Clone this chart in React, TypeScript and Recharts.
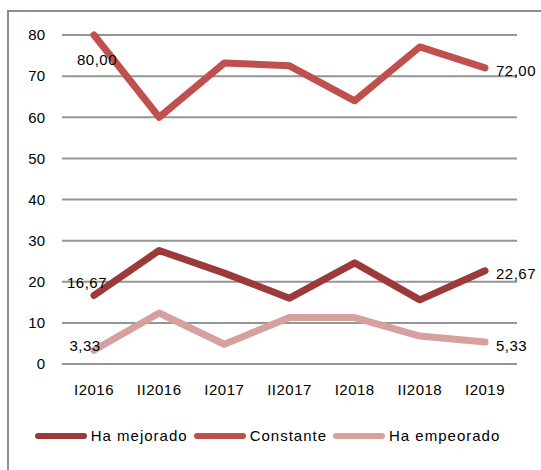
import React from "react";
import {
  LineChart,
  Line,
  XAxis,
  YAxis,
  CartesianGrid,
  Legend,
  LabelList,
} from "recharts";

const periods = ["I2016", "II2016", "I2017", "II2017", "I2018", "II2018", "I2019"];
const haMejorado = [16.67, 27.6, 22.1, 16.0, 24.6, 15.6, 22.67];
const constante = [80.0, 60.0, 73.2, 72.5, 64.0, 77.1, 72.0];
const haEmpeorado = [3.33, 12.4, 4.8, 11.3, 11.3, 6.8, 5.33];
const yTicks = [0, 10, 20, 30, 40, 50, 60, 70, 80];

const data = periods.map((p, i) => ({
  period: p,
  mejorado: haMejorado[i],
  constante: constante[i],
  empeorado: haEmpeorado[i],
}));

const FONT = "'Liberation Sans', Arial, sans-serif";

const series = [
  { key: "mejorado", name: "Ha mejorado", color: "#9C3A39", first: { dx: -7, dy: -13 } },
  { key: "constante", name: "Constante", color: "#C0504D", first: { dx: 3, dy: 24 } },
  { key: "empeorado", name: "Ha empeorado", color: "#D6A09F", first: { dx: -9, dy: -5 } },
];

const fmt = (v: number) => v.toFixed(2).replace(".", ",");

const makeLabel = (first: { dx: number; dy: number }) => (props: any) => {
  const { x, y, value, index } = props;
  const last = periods.length - 1;
  if (index !== 0 && index !== last) return null;
  const isFirst = index === 0;
  return (
    <text
      x={isFirst ? x + first.dx : x + 11}
      y={isFirst ? y + first.dy : y + 3}
      textAnchor={isFirst ? "middle" : "start"}
      dominantBaseline="central"
      fontSize={15}
      fontFamily={FONT}
      letterSpacing={0.5}
      fill="#000"
    >
      {fmt(value)}
    </text>
  );
};

const LegendContent = () => (
  <div
    style={{
      display: "flex",
      justifyContent: "center",
      alignItems: "center",
      fontFamily: FONT,
      fontSize: 15,
      letterSpacing: 1,
      color: "#000",
    }}
  >
    {series.map((s) => (
      <div key={s.key} style={{ display: "flex", alignItems: "center", marginRight: 6 }}>
        <span
          style={{
            display: "inline-block",
            width: 52,
            height: 6,
            borderRadius: 3,
            background: s.color,
            marginRight: 4,
          }}
        />
        <span>{s.name}</span>
      </div>
    ))}
  </div>
);

export default function App() {
  return (
    <div style={{ position: "absolute", left: 0, top: 0, width: 541, height: 470, background: "#fff", overflow: "hidden" }}>
      <div
        style={{
          position: "absolute",
          left: 7,
          top: 10,
          width: 600,
          height: 500,
          border: "2px solid #8E8E8E",
          boxSizing: "border-box",
        }}
      />
      <div style={{ position: "absolute", left: 0, top: 0 }}>
        <LineChart
          width={541}
          height={470}
          data={data}
          margin={{ top: 35, right: 24, left: 12, bottom: 59 }}
        >
          <CartesianGrid vertical={false} stroke="#959595" strokeWidth={2} />
          <XAxis
            dataKey="period"
            axisLine={false}
            tickLine={false}
            tickMargin={14}
            height={30}
            padding={{ left: 32, right: 32 }}
            tick={{ fill: "#000", fontSize: 15, fontFamily: FONT, letterSpacing: 0.5 }}
          />
          <YAxis
            domain={[0, 80]}
            ticks={yTicks}
            width={50}
            axisLine={false}
            tickLine={false}
            tickMargin={11}
            tick={{ fill: "#000", fontSize: 15, fontFamily: FONT }}
          />
          {series.map((s) => (
            <Line
              key={s.key}
              type="linear"
              dataKey={s.key}
              name={s.name}
              stroke={s.color}
              strokeWidth={7}
              strokeLinecap="round"
              strokeLinejoin="round"
              dot={false}
              activeDot={false}
              isAnimationActive={false}
            >
              <LabelList dataKey={s.key} content={makeLabel(s.first)} />
            </Line>
          ))}
          <Legend
            content={<LegendContent />}
            wrapperStyle={{ position: "absolute", top: 427, left: 0, width: 541 }}
          />
        </LineChart>
      </div>
    </div>
  );
}
